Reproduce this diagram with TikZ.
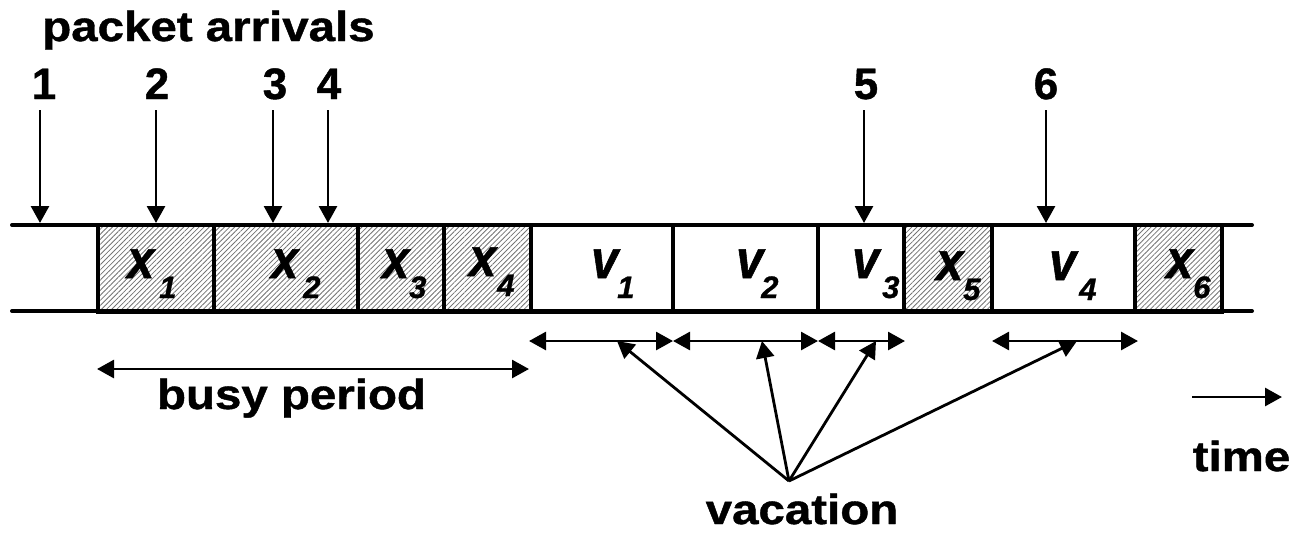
\documentclass[tikz,border=0pt]{standalone}
\usepackage{fontspec}
\setmainfont{Liberation Sans}
\newfontfamily\wordfont{Liberation Sans}[FakeStretch=1.13,FakeBold=1]
\newfontfamily\symfont{Liberation Sans}[FakeStretch=0.9,FakeBold=1]
\newfontfamily\numfont{Liberation Sans}[FakeBold=1]
\usetikzlibrary{arrows.meta,patterns.meta}

% letter with a lowered index: letter, index, gap before the index (pt)
\newcommand\slotlabel[3]{#1\hspace{#3pt}\raisebox{-20pt}{\numfont\bfseries\itshape\fontsize{31}{31}\selectfont #2}}

\begin{document}
\begin{tikzpicture}[x=1pt,y=-1pt,
  rail/.style={line width=4pt, line cap=round},
  slot/.style={draw, line width=4pt, minimum height=87pt, inner sep=0pt,
    outer sep=0pt, anchor=west},
  busyslot/.style={slot, pattern={Lines[angle=45,distance=3.6pt,line width=0.8pt]},
    pattern color=black!55},
  ptr/.style={line width=2.8pt, -{Triangle[length=17pt,width=18pt]}},
  span/.style={line width=2.8pt, {Triangle[length=17pt,width=18pt]}-{Triangle[length=17pt,width=18pt]}},
  word/.style={font=\wordfont\bfseries\fontsize{42}{42}\selectfont, inner sep=0pt, anchor=base},
  num/.style={font=\numfont\bfseries\fontsize{44}{44}\selectfont, inner sep=0pt, anchor=base},
  sym/.style={font=\symfont\bfseries\itshape\fontsize{54}{54}\selectfont, inner sep=0pt, anchor=base west},
]
\useasboundingbox (0,0) rectangle (1302,533);

% time line rails
\coordinate (railL1) at (12,225);
\coordinate (railR1) at (1252,225);
\coordinate (railL2) at (12,311);
\coordinate (railR2) at (1252,311);

% service and vacation slots
\node[busyslot, minimum width=116pt]  (s1)  at (98,268)    {};
\node[busyslot, minimum width=144pt]  (s2)  at (214,268)   {};
\node[busyslot, minimum width=85.5pt] (s3)  at (358,268)   {};
\node[busyslot, minimum width=87.5pt] (s4)  at (443.5,268) {};
\node[slot,     minimum width=142pt]  (w1)  at (531,268)   {};
\node[slot,     minimum width=145pt]  (w2)  at (673,268)   {};
\node[slot,     minimum width=85.5pt] (w3)  at (818,268)   {};
\node[busyslot, minimum width=88.5pt] (s5)  at (903.5,268) {};
\node[slot,     minimum width=143pt]  (w4)  at (992,268)   {};
\node[busyslot, minimum width=87pt]   (s6)  at (1135,268)  {};

\draw[rail] (railL1) -- (railR1);
\draw[rail] (railL2) -- (railR2);

% slot labels
\node[sym] (l1) at (127,278) {\slotlabel{x}{1}{5}};
\node[sym] (l2) at (271,278) {\slotlabel{x}{2}{5}};
\node[sym] (l3) at (382,278) {\slotlabel{x}{3}{0}};
\node[sym] (l4) at (469,276) {\slotlabel{x}{4}{1}};
\node[sym] (l5) at (591,278) {\slotlabel{v}{1}{-1}};
\node[sym] (l6) at (736,278) {\slotlabel{v}{2}{-2}};
\node[sym] (l7) at (852,278) {\slotlabel{v}{3}{3}};
\node[sym] (l8) at (936,280) {\slotlabel{x}{5}{0}};
\node[sym] (l9) at (1049,280) {\slotlabel{v}{4}{3}};
\node[sym] (l10) at (1166,278) {\slotlabel{x}{6}{0}};

% packet arrivals
\node[word] (arr) at (208.5,41) {packet arrivals};
\node[num] (n1) at (44,99)    {1};
\node[num] (n2) at (157,99)   {2};
\node[num] (n3) at (275,99)   {3};
\node[num] (n4) at (329,99)   {4};
\node[num] (n5) at (866,99)   {5};
\node[num] (n6) at (1046,99)  {6};

\foreach \i/\x in {1/40,2/156,3/273,4/328,5/864,6/1046} {
  \coordinate (a\i) at (\x,110);
  \coordinate (h\i) at (\x,223);
  \draw[ptr] (a\i) -- (h\i);
}

% busy period
\coordinate (bpL) at (97,369);
\coordinate (bpR) at (529,369);
\draw[span] (bpL) -- (bpR);
\node[word] (bp) at (291.5,409) {busy period};

% vacation spans
\coordinate (v0) at (529,341);
\coordinate (v1) at (673,341);
\coordinate (v2) at (818,341);
\coordinate (v3) at (905,341);
\coordinate (v4a) at (992,341);
\coordinate (v4b) at (1138,341);
\draw[span] (v0) -- (v1);
\draw[span] (v1) -- (v2);
\draw[span] (v2) -- (v3);
\draw[span] (v4a) -- (v4b);

% vacation pointers
\coordinate (hub) at (789,481);
\coordinate (p1) at (617,341);
\coordinate (p2) at (762,341);
\coordinate (p3) at (876,341);
\coordinate (p4) at (1077,341);
\foreach \p in {p1,p2,p3,p4} \draw[ptr] (hub) -- (\p);
\node[word] (vac) at (802,524) {vacation};

% time axis
\coordinate (tL) at (1192,397);
\coordinate (tR) at (1282,397);
\draw[ptr] (tL) -- (tR);
\node[word] (time) at (1241.5,471) {time};
\end{tikzpicture}
\end{document}
